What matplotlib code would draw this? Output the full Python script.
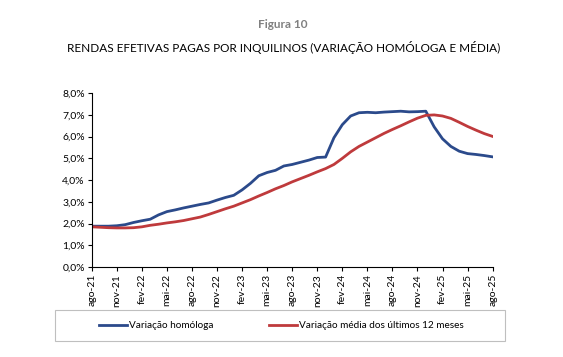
import matplotlib.pyplot as plt
from matplotlib.patches import Rectangle
import numpy as np

plt.rcParams['font.family'] = ['Lato', 'DejaVu Sans']

# meses de ago-21 a ago-25
meses = ['ago-21', 'set-21', 'out-21', 'nov-21', 'dez-21', 'jan-22', 'fev-22', 'mar-22', 'abr-22',
         'mai-22', 'jun-22', 'jul-22', 'ago-22', 'set-22', 'out-22', 'nov-22', 'dez-22', 'jan-23',
         'fev-23', 'mar-23', 'abr-23', 'mai-23', 'jun-23', 'jul-23', 'ago-23', 'set-23', 'out-23',
         'nov-23', 'dez-23', 'jan-24', 'fev-24', 'mar-24', 'abr-24', 'mai-24', 'jun-24', 'jul-24',
         'ago-24', 'set-24', 'out-24', 'nov-24', 'dez-24', 'jan-25', 'fev-25', 'mar-25', 'abr-25',
         'mai-25', 'jun-25', 'jul-25', 'ago-25']

homologa = [1.88, 1.88, 1.88, 1.90, 1.95, 2.05, 2.13, 2.20, 2.40, 2.55, 2.63, 2.72, 2.80,
            2.88, 2.95, 3.08, 3.20, 3.30, 3.55, 3.85, 4.20, 4.35, 4.45, 4.65, 4.72, 4.82,
            4.92, 5.04, 5.06, 5.95, 6.55, 6.95, 7.10, 7.12, 7.10, 7.13, 7.15, 7.17, 7.14,
            7.15, 7.17, 6.45, 5.90, 5.55, 5.33, 5.22, 5.18, 5.13, 5.07]

media12 = [1.85, 1.83, 1.81, 1.80, 1.80, 1.81, 1.85, 1.92, 1.97, 2.03, 2.08, 2.14, 2.22,
           2.30, 2.42, 2.55, 2.68, 2.80, 2.95, 3.10, 3.27, 3.43, 3.60, 3.75, 3.92, 4.07,
           4.22, 4.38, 4.53, 4.72, 5.00, 5.30, 5.55, 5.75, 5.95, 6.15, 6.33, 6.50, 6.68,
           6.85, 6.98, 7.00, 6.95, 6.84, 6.66, 6.47, 6.30, 6.14, 6.01]

azul = '#2B4A8B'
vermelho = '#BF3A3C'

fig = plt.figure(figsize=(5.63, 3.57), dpi=100)
ax = fig.add_axes([0.163, 0.252, 0.712, 0.487])

x = np.arange(len(meses))
l1, = ax.plot(x, homologa, color=azul, lw=2.0, label='Variação homóloga')
l2, = ax.plot(x, media12, color=vermelho, lw=2.0, label='Variação média dos últimos 12 meses')

ax.set_xlim(0, len(meses) - 1)
ax.set_ylim(0, 8)
ax.set_yticks(np.arange(0, 9, 1))
ax.set_yticklabels([f'{v:.1f}%'.replace('.', ',') for v in range(0, 9)], fontsize=7.5)
ax.set_xticks(x[::3])
ax.set_xticklabels(meses[::3], rotation=90, fontsize=7.5)
ax.tick_params(axis='both', direction='out', length=3, width=0.8, pad=2)

for edge in ['top', 'right']:
    ax.spines[edge].set_visible(False)
for edge in ['left', 'bottom']:
    ax.spines[edge].set_linewidth(0.8)

fig.text(0.503, 0.93, 'Figura 10', ha='center', va='center', fontsize=8.5,
         color='#808080', fontweight='bold')
fig.text(0.503, 0.868, 'RENDAS EFETIVAS PAGAS POR INQUILINOS (VARIAÇÃO HOMÓLOGA E MÉDIA)',
         ha='center', va='center', fontsize=8.5, color='black')

fig.patches.append(Rectangle((55 / 563, 1 - 341 / 357), 450 / 563, 31 / 357,
                             transform=fig.transFigure, fill=False,
                             edgecolor='#BFBFBF', lw=0.8))
fig.legend(handles=[l1, l2], loc='center', bbox_to_anchor=(0.5, 1 - 326 / 357),
           ncol=2, frameon=False, fontsize=7.2, handlelength=2.8,
           handletextpad=0.15, columnspacing=5.6)

fig.savefig('out.png', dpi=100)
